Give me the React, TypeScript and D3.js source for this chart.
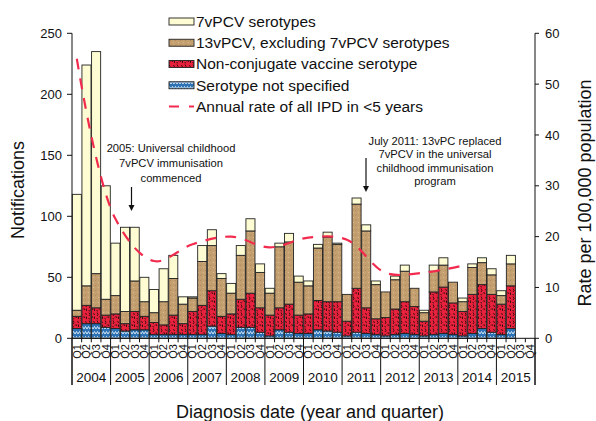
import React, { useEffect, useRef } from 'react';
import * as d3 from 'd3';

const years = [2004, 2005, 2006, 2007, 2008, 2009, 2010, 2011, 2012, 2013, 2014, 2015];
const quarters = ['Q1', 'Q2', 'Q3', 'Q4'];

// quarterly notifications, 2004 Q1 .. 2015 Q2
const notSpecified = [8, 12, 12, 9, 8, 6, 7, 7, 3, 3, 3, 3, 3, 3, 10, 4, 3, 9, 9, 5, 2, 7, 5, 4, 4, 7, 6, 5, 2, 5, 4, 3, 2, 3, 4, 3, 2, 3, 4, 3, 2, 4, 8, 5, 3, 8];
const nonConjugate = [10, 15, 13, 10, 12, 6, 15, 11, 10, 8, 16, 9, 19, 24, 29, 14, 17, 23, 28, 20, 17, 18, 23, 15, 16, 24, 24, 25, 12, 36, 21, 13, 15, 21, 26, 23, 12, 35, 38, 26, 20, 32, 36, 31, 25, 35];
const pcv13Only = [5, 16, 28, 13, 15, 10, 25, 12, 8, 19, 30, 16, 11, 36, 37, 31, 17, 36, 51, 29, 18, 50, 51, 27, 23, 43, 53, 47, 22, 69, 63, 28, 21, 24, 25, 15, 7, 17, 18, 17, 8, 22, 18, 16, 7, 18];
const pcv7 = [95, 181, 182, 93, 43, 69, 44, 20, 19, 27, 19, 6, 1, 13, 13, 4, 8, 8, 10, 7, 4, 3, 7, 5, 4, 3, 4, 1, 0, 5, 5, 3, 0, 3, 5, 0, 2, 5, 6, 0, 3, 3, 4, 5, 4, 7];

// annual rate, plotted at Q1 of each year
const rateYears = [2004, 2005, 2006, 2007, 2008, 2009, 2010, 2011, 2012, 2013, 2014];
const annualRate = [55, 23.5, 15.2, 18.5, 20, 17.9, 19.8, 19.4, 12.9, 12.9, 14.3];

const leftTicks = [0, 50, 100, 150, 200, 250];
const rightTicks = [0, 10, 20, 30, 40, 50, 60];

const FONT = '"Liberation Sans", Arial, sans-serif';

const App: React.FC = () => {
  const svgRef = useRef<SVGSVGElement>(null);

  useEffect(() => {
    if (!svgRef.current) return;
    const svg = d3.select(svgRef.current);
    svg.selectAll('*').remove();

    const left = 72, right = 535, top = 33.3, base = 338.3;

    const periods = years.flatMap((y) => quarters.map((q) => `${y} ${q}`));
    const rows = notSpecified.map((v, i) => ({
      period: periods[i],
      ns: v,
      nc: nonConjugate[i],
      p13: pcv13Only[i],
      p7: pcv7[i],
    }));

    const x = d3.scaleBand<string>().domain(periods).range([left, right]).paddingInner(0.06).paddingOuter(0.03);
    const bx = d3.scaleLinear().domain([0, periods.length]).range([left, right]);
    const y = d3.scaleLinear().domain([0, 250]).range([base, top]);
    const yr = d3.scaleLinear().domain([0, 60]).range([base, top]);

    svg.append('rect').attr('width', 596).attr('height', 421).attr('fill', '#fff');

    // fill patterns
    const defs = svg.append('defs');
    const pBlue = defs.append('pattern').attr('id', 'pBlue').attr('patternUnits', 'userSpaceOnUse').attr('width', 6).attr('height', 5);
    pBlue.append('rect').attr('width', 6).attr('height', 5).attr('fill', '#2c72b4');
    pBlue.append('path').attr('d', 'M0,4 L1.5,1.5 L3,4 L4.5,1.5 L6,4').attr('stroke', '#e4f0fa').attr('stroke-width', 0.9).attr('fill', 'none');

    const pRed = defs.append('pattern').attr('id', 'pRed').attr('patternUnits', 'userSpaceOnUse').attr('width', 8).attr('height', 8);
    pRed.append('rect').attr('width', 8).attr('height', 8).attr('fill', '#e8213c');
    pRed.append('path')
      .attr('d', 'M1,0.5 l1,2 l-1,1.5 M5,1.5 l2,1 M3,5.5 l1,-1 l1,1.5 M6.5,4.5 l0,2.5 M0.5,6.5 l1.5,0.5')
      .attr('stroke', '#1a0a0a').attr('stroke-width', 0.8).attr('fill', 'none');

    const pBrown = defs.append('pattern').attr('id', 'pBrown').attr('patternUnits', 'userSpaceOnUse').attr('width', 5).attr('height', 5);
    pBrown.append('rect').attr('width', 5).attr('height', 5).attr('fill', '#c49f70');
    pBrown.append('rect').attr('x', 0).attr('y', 0).attr('width', 1).attr('height', 1).attr('fill', '#a98251').attr('opacity', 0.7);
    pBrown.append('rect').attr('x', 3).attr('y', 2).attr('width', 1).attr('height', 1).attr('fill', '#ddc39c').attr('opacity', 0.8);
    pBrown.append('rect').attr('x', 1).attr('y', 4).attr('width', 1).attr('height', 1).attr('fill', '#b38a5b').attr('opacity', 0.6);

    const keys = ['ns', 'nc', 'p13', 'p7'];
    const fills: Record<string, string> = { ns: 'url(#pBlue)', nc: 'url(#pRed)', p13: 'url(#pBrown)', p7: '#fefcd2' };
    const stack = d3.stack<any>().keys(keys)(rows);

    const bars = svg.append('g');
    stack.forEach((layer) => {
      bars.append('g')
        .selectAll('rect')
        .data(layer.filter((d) => d[1] - d[0] > 0))
        .join('rect')
        .attr('x', (d) => x(d.data.period)!)
        .attr('width', x.bandwidth())
        .attr('y', (d) => y(d[1]))
        .attr('height', (d) => y(d[0]) - y(d[1]))
        .attr('fill', fills[layer.key])
        .attr('stroke', '#222')
        .attr('stroke-width', 0.9);
    });

    // annual rate line
    const line = d3.line<number>()
      .x((_, i) => x(`${rateYears[i]} Q1`)! + x.bandwidth() / 2)
      .y((d) => yr(d))
      .curve(d3.curveCatmullRom.alpha(0.5));
    svg.append('path')
      .attr('d', line(annualRate)!)
      .attr('fill', 'none')
      .attr('stroke', '#f22b4e')
      .attr('stroke-width', 2.2)
      .attr('stroke-dasharray', '11,9');

    // axes
    const ax = svg.append('g').attr('stroke', '#111').attr('stroke-width', 1);
    ax.append('line').attr('x1', left).attr('x2', left).attr('y1', top).attr('y2', 385);
    ax.append('line').attr('x1', right).attr('x2', right).attr('y1', top).attr('y2', 385);
    ax.append('line').attr('x1', left).attr('x2', right).attr('y1', base).attr('y2', base);

    const lt = svg.append('g');
    leftTicks.forEach((t) => {
      lt.append('line').attr('x1', left - 5).attr('x2', left).attr('y1', y(t)).attr('y2', y(t)).attr('stroke', '#111');
      lt.append('text').attr('x', left - 10).attr('y', y(t)).attr('dy', '0.35em').attr('text-anchor', 'end')
        .attr('font-size', 13).attr('font-family', FONT).attr('fill', '#111').text(t);
    });
    rightTicks.forEach((t) => {
      lt.append('line').attr('x1', right).attr('x2', right + 4).attr('y1', yr(t)).attr('y2', yr(t)).attr('stroke', '#111');
      lt.append('text').attr('x', right + 10).attr('y', yr(t)).attr('dy', '0.35em').attr('text-anchor', 'start')
        .attr('font-size', 13).attr('font-family', FONT).attr('fill', '#111').text(t);
    });

    // category axis: quarter ticks, year separators, labels
    const cat = svg.append('g');
    d3.range(periods.length + 1).forEach((i) => {
      const yearEdge = i % 4 === 0;
      cat.append('line')
        .attr('x1', bx(i)).attr('x2', bx(i))
        .attr('y1', base).attr('y2', yearEdge ? 385 : base + 4)
        .attr('stroke', '#111').attr('stroke-width', 1);
    });
    periods.forEach((p, i) => {
      const cx = bx(i + 0.5);
      cat.append('text')
        .attr('transform', `translate(${cx},344) rotate(-90)`)
        .attr('dy', '0.35em')
        .attr('text-anchor', 'end')
        .attr('font-size', 11).attr('font-family', FONT).attr('fill', '#111')
        .text(quarters[i % 4]);
    });
    years.forEach((yy, k) => {
      cat.append('text')
        .attr('x', bx(k * 4 + 2)).attr('y', 382)
        .attr('text-anchor', 'middle')
        .attr('font-size', 13.5).attr('font-family', FONT).attr('fill', '#111')
        .text(yy);
    });

    // axis titles
    svg.append('text').attr('transform', 'translate(18,190) rotate(-90)').attr('dy', '0.35em')
      .attr('text-anchor', 'middle').attr('font-size', 18).attr('font-family', FONT).attr('fill', '#111').text('Notifications');
    svg.append('text').attr('transform', 'translate(585,193) rotate(-90)').attr('dy', '0.35em')
      .attr('text-anchor', 'middle').attr('font-size', 18).attr('font-family', FONT).attr('fill', '#111').text('Rate per 100,000 population');
    svg.append('text').attr('x', 310).attr('y', 418)
      .attr('text-anchor', 'middle').attr('font-size', 18).attr('font-family', FONT).attr('fill', '#111').text('Diagnosis date (year and quarter)');

    // legend
    const legendItems = [
      { label: '7vPCV serotypes', fill: fills.p7 },
      { label: '13vPCV, excluding 7vPCV serotypes', fill: fills.p13 },
      { label: 'Non-conjugate vaccine serotype', fill: fills.nc },
      { label: 'Serotype not specified', fill: fills.ns },
      { label: 'Annual rate of all IPD in <5 years', fill: null },
    ];
    const lg = svg.append('g');
    legendItems.forEach((it, i) => {
      const cy = 21.5 + i * 21.25;
      if (it.fill) {
        lg.append('rect').attr('x', 169).attr('y', cy - 3.5).attr('width', 25).attr('height', 7)
          .attr('fill', it.fill).attr('stroke', '#222').attr('stroke-width', 0.9);
      } else {
        lg.append('line').attr('x1', 169).attr('x2', 194).attr('y1', cy).attr('y2', cy)
          .attr('stroke', '#f22b4e').attr('stroke-width', 2.2).attr('stroke-dasharray', '10,10');
      }
      lg.append('text').attr('x', 196).attr('y', cy).attr('dy', '0.35em')
        .attr('font-size', 15.5).attr('font-family', FONT).attr('fill', '#111').text(it.label);
    });

    // annotations
    const note = (lines: string[], cx: number, y0: number, gap: number) => {
      lines.forEach((t, i) => {
        svg.append('text').attr('x', cx).attr('y', y0 + i * gap).attr('dy', '0.35em')
          .attr('text-anchor', 'middle').attr('font-size', 11.2).attr('font-family', FONT).attr('fill', '#111').text(t);
      });
    };
    note(['2005: Universal childhood', '7vPCV immunisation', 'commenced'], 171, 148, 15);
    note(['July 2011: 13vPC replaced', '7vPCV in the universal', 'childhood immunisation', 'program'], 435, 141, 13.3);

    const arrow = (ax0: number, y1: number, y2: number) => {
      svg.append('line').attr('x1', ax0).attr('x2', ax0).attr('y1', y1).attr('y2', y2 - 5)
        .attr('stroke', '#111').attr('stroke-width', 1.2);
      svg.append('path').attr('d', `M${ax0 - 3},${y2 - 6} L${ax0 + 3},${y2 - 6} L${ax0},${y2} Z`).attr('fill', '#111');
    };
    arrow(131.5, 187, 211);
    arrow(366, 158, 192);
  }, []);

  return (
    <svg ref={svgRef} width={596} height={421} style={{ position: 'absolute', left: 0, top: 0, display: 'block' }} />
  );
};

export default App;
